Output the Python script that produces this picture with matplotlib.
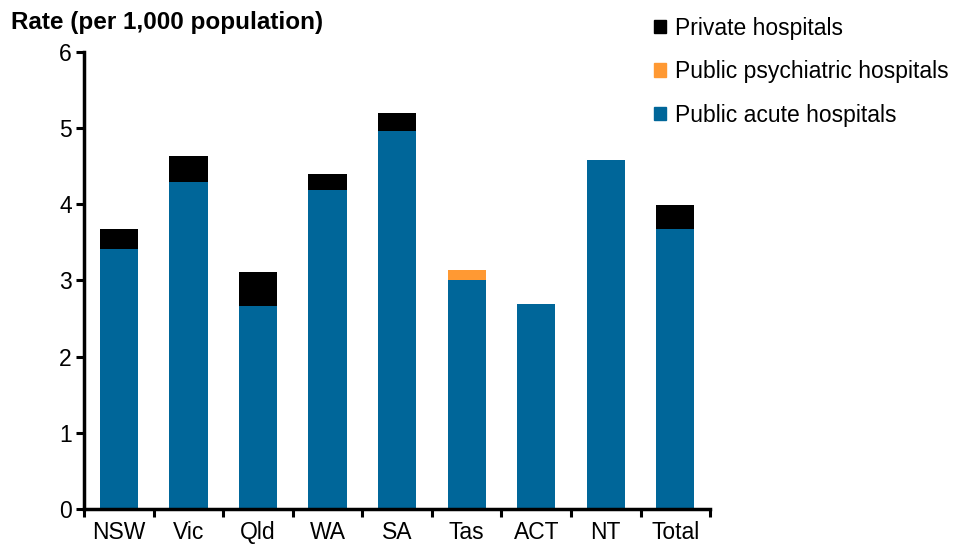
import numpy as np
import matplotlib.pyplot as plt
from matplotlib.patches import Patch

plt.rcParams['font.family'] = ['Liberation Sans', 'DejaVu Sans']

# Datos
estados = ['NSW', 'Vic', 'Qld', 'WA', 'SA', 'Tas', 'ACT', 'NT', 'Total']
publicos_agudos = [3.41, 4.29, 2.67, 4.19, 4.96, 3.01, 2.69, 4.58, 3.68]
publicos_psiq = [0.0, 0.0, 0.0, 0.0, 0.0, 0.12, 0.0, 0.0, 0.0]
privados = [0.27, 0.34, 0.44, 0.21, 0.24, 0.0, 0.0, 0.0, 0.31]

azul = '#006699'
naranja = '#ff9933'
negro = '#000000'

fig = plt.figure(figsize=(9.57, 5.46), dpi=100)
ax = fig.add_axes([0.088, 0.068, 0.654, 0.837])

x = np.arange(len(estados))
ancho = 0.55
base = np.array(publicos_agudos)
ax.bar(x, publicos_agudos, ancho, color=azul)
ax.bar(x, publicos_psiq, ancho, bottom=base, color=naranja)
base = base + np.array(publicos_psiq)
ax.bar(x, privados, ancho, bottom=base, color=negro)

ax.set_xlim(-0.5, len(estados) - 0.5)
ax.set_ylim(0, 6)
ax.set_yticks(range(0, 7))
ax.set_xticks(np.arange(-0.5, len(estados), 1.0))
ax.set_xticklabels([])
ax.set_xticks(x, minor=True)
ax.set_xticklabels(estados, minor=True, fontsize=16.5)
ax.tick_params(axis='x', which='minor', length=0, pad=9)
ax.tick_params(axis='x', which='major', length=6, width=2.2, direction='out')
ax.tick_params(axis='y', length=6, width=2.2, direction='out', labelsize=16.5, pad=3)

for lado in ['top', 'right']:
    ax.spines[lado].set_visible(False)
for lado in ['left', 'bottom']:
    ax.spines[lado].set_linewidth(2.5)

fig.text(0.012, 0.958, 'Rate (per 1,000 population)', fontsize=17.5, fontweight='bold',
         va='center', ha='left')

manijas = [Patch(color=negro), Patch(color=naranja), Patch(color=azul)]
nombres = ['Private hospitals', 'Public psychiatric hospitals', 'Public acute hospitals']
fig.legend(manijas, nombres, loc='upper left', bbox_to_anchor=(0.668, 0.997),
           frameon=False, fontsize=16.5, handlelength=0.5, handleheight=0.5,
           handletextpad=0.4, labelspacing=0.9, borderaxespad=0.25)

fig.savefig('out.png', dpi=100)
